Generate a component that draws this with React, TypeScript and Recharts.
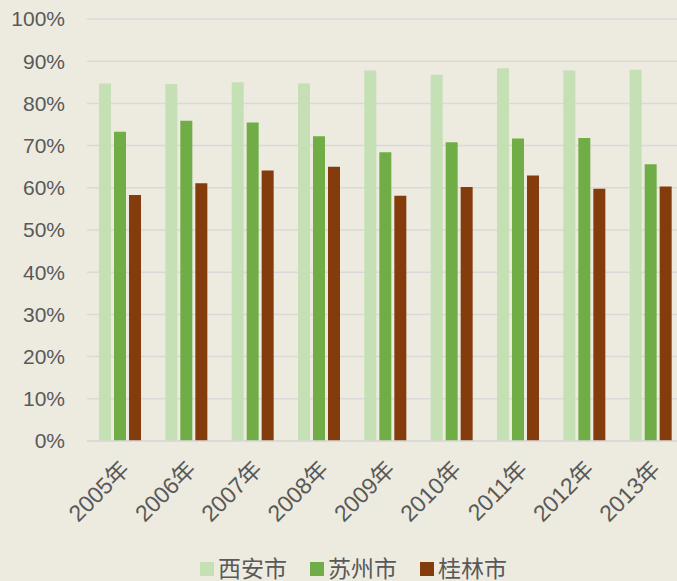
import { Bar, BarChart, CartesianGrid, Legend, XAxis, YAxis } from "recharts";

const years = ["2005年", "2006年", "2007年", "2008年", "2009年", "2010年", "2011年", "2012年", "2013年"];
const xian = [84.7, 84.6, 85.0, 84.7, 87.8, 86.8, 88.3, 87.8, 88.0];
const suzhou = [73.3, 75.9, 75.5, 72.2, 68.4, 70.8, 71.7, 71.8, 65.6];
const guilin = [58.3, 61.1, 64.1, 65.0, 58.1, 60.2, 62.9, 59.8, 60.3];
const yTicks = [0, 10, 20, 30, 40, 50, 60, 70, 80, 90, 100];

const seriesList = [
  { key: "xian", name: "西安市", color: "#C5E0B4" },
  { key: "suzhou", name: "苏州市", color: "#70AD47" },
  { key: "guilin", name: "桂林市", color: "#843C0C" },
];

const data = years.map((year, i) => ({ year, xian: xian[i], suzhou: suzhou[i], guilin: guilin[i] }));

const font = '"Liberation Sans", "Noto Sans CJK SC", sans-serif';
const textColor = "#595959";

function YearTick({ x, y, payload }: any) {
  return (
    <text
      x={x + 5}
      y={y + 16}
      transform={`rotate(-45 ${x + 5} ${y + 16})`}
      textAnchor="end"
      dominantBaseline="central"
      fill={textColor}
      fontSize={23}
      fontFamily={font}
    >
      {payload.value}
    </text>
  );
}

function LegendRow() {
  return (
    <div style={{ display: "flex", gap: 23, paddingLeft: 200, paddingTop: 12, fontFamily: font, lineHeight: "24px" }}>
      {seriesList.map((s) => (
        <div key={s.key} style={{ display: "flex", alignItems: "center", gap: 4 }}>
          <span style={{ width: 14, height: 14, background: s.color, display: "inline-block" }} />
          <span style={{ fontSize: 23, color: textColor }}>{s.name}</span>
        </div>
      ))}
    </div>
  );
}

export default function App() {
  return (
    <div style={{ position: "fixed", left: 0, top: 0, width: 677, height: 581, background: "#EDEBE0", overflow: "hidden" }}>
      <BarChart width={677} height={581} data={data} margin={{ top: 19, right: -7, bottom: 0, left: 0 }} barSize={12} barGap={3}>
        <CartesianGrid vertical={false} stroke="#D9D9D9" strokeWidth={1.5} />
        <XAxis
          dataKey="year"
          height={104}
          interval={0}
          tickLine={false}
          axisLine={{ stroke: "#D9D9D9", strokeWidth: 1.5 }}
          tick={<YearTick />}
        />
        <YAxis
          width={87}
          domain={[0, 100]}
          ticks={yTicks}
          axisLine={false}
          tickLine={false}
          tickSize={6}
          tickMargin={16}
          tickFormatter={(v) => `${v}%`}
          tick={{ fill: textColor, fontSize: 21, fontFamily: font }}
        />
        <Legend verticalAlign="bottom" align="left" height={36} content={<LegendRow />} />
        {seriesList.map((s) => (
          <Bar key={s.key} dataKey={s.key} name={s.name} fill={s.color} isAnimationActive={false} />
        ))}
      </BarChart>
    </div>
  );
}
